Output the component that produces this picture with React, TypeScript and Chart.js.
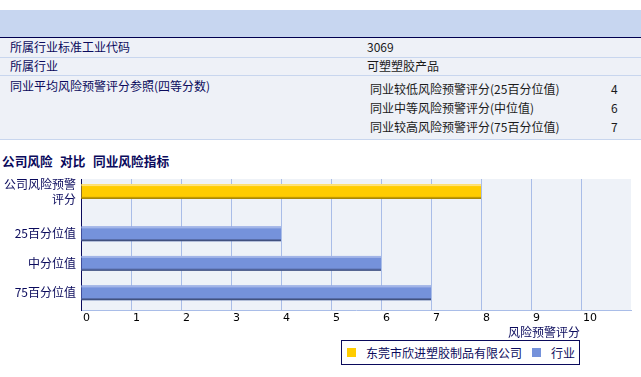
import React, { useEffect, useRef } from 'react';
import { Chart, registerables } from 'chart.js';

Chart.register(...registerables);

// ---- data ----
const infoLabels = ['所属行业标准工业代码', '所属行业', '同业平均风险预警评分参照(四等分数)'];
const infoValues = ['3069', '可塑塑胶产品', ''];
const quartileLabels = ['同业较低风险预警评分(25百分位值)', '同业中等风险预警评分(中位值)', '同业较高风险预警评分(75百分位值)'];
const quartileValues = [4, 6, 7];

const chartTitleParts = ['公司风险', '对比', '同业风险指标'];
const axisTitle = '风险预警评分';
const categories: (string | string[])[] = [['公司风险预警', '评分'], '25百分位值', '中分位值', '75百分位值'];
const companyName = '东莞市欣进塑胶制品有限公司';
const industryName = '行业';
const companyScores: (number | null)[] = [8, null, null, null];
const industryScores: (number | null)[] = [null, 4, 6, 7];
const scoreTicks = [0, 1, 2, 3, 4, 5, 6, 7, 8, 9, 10];

// ---- style ----
const NAVY = '#0a0a5c';
const CJK = '"Noto Sans CJK SC", "Noto Sans", sans-serif';
const CAT_PCT = 0.868;
const BAR_PCT = 1.154;
const GRID = '#A9BDE8';
const YELLOW = { body: '#FFCC00', light: '#FFE27A', mid: '#C29A00', dark: '#9C7C00' };
const BLUE = { body: '#7592DB', light: '#A2B5E8', mid: '#52659E', dark: '#39466E' };
const shades = [YELLOW, BLUE];

const toPoints = (arr: (number | null)[]) =>
  arr.map((v, i) => (v == null ? null : { x: v, y: i })).filter((p) => p !== null) as { x: number; y: number }[];

const plotBg = {
  id: 'plotBg',
  beforeDraw(chart: any) {
    const { ctx, chartArea } = chart;
    ctx.save();
    ctx.fillStyle = '#EEF2F8';
    ctx.fillRect(chartArea.left, chartArea.top, chartArea.right - chartArea.left, chartArea.bottom - chartArea.top);
    ctx.restore();
  },
};

const bevel = {
  id: 'bevel',
  afterDatasetsDraw(chart: any) {
    const ctx = chart.ctx;
    ctx.save();
    chart.data.datasets.forEach((_: any, di: number) => {
      const meta = chart.getDatasetMeta(di);
      const s = shades[di];
      meta.data.forEach((el: any) => {
        const { x, y, base, height } = el.getProps(['x', 'y', 'base', 'height'], true);
        const left = Math.min(x, base);
        const w = Math.abs(x - base);
        const top = y - height / 2;
        ctx.fillStyle = s.light;
        ctx.fillRect(left, top, w, 2);
        ctx.fillStyle = s.mid;
        ctx.fillRect(left, top + height - 2, w, 1);
        ctx.fillStyle = s.dark;
        ctx.fillRect(left, top + height - 1, w, 1);
      });
    });
    ctx.restore();
  },
};

function ChartBox() {
  const ref = useRef<HTMLCanvasElement | null>(null);
  useEffect(() => {
    if (!ref.current) return;
    const chart = new Chart(ref.current, {
      type: 'bar',
      data: {
        datasets: [
          {
            label: companyName,
            data: toPoints(companyScores) as any,
            backgroundColor: YELLOW.body,
            categoryPercentage: CAT_PCT,
            barPercentage: BAR_PCT,
          },
          {
            label: industryName,
            data: toPoints(industryScores) as any,
            backgroundColor: BLUE.body,
            categoryPercentage: CAT_PCT,
            barPercentage: BAR_PCT,
          },
        ],
      },
      options: {
        indexAxis: 'y',
        responsive: false,
        animation: false,
        layout: { padding: { top: 29, right: 10, left: 0, bottom: 0 } },
        plugins: { legend: { display: false }, tooltip: { enabled: false }, title: { display: false } },
        scales: {
          x: {
            type: 'linear',
            position: 'bottom',
            min: 0,
            max: 11,
            offset: false,
            ticks: {
              stepSize: 1,
              autoSkip: false,
              maxRotation: 0,
              align: 'start',
              labelOffset: 2,
              padding: 2,
              color: '#000',
              font: { family: '"DejaVu Sans", sans-serif', size: 11 },
              callback: (v: any) => (scoreTicks.includes(Number(v)) ? String(v) : ''),
            },
            grid: {
              drawTicks: false,
              offset: false,
              color: (c: any) => (c.tick && (c.tick.value === 0 || c.tick.value === 11) ? 'transparent' : GRID),
            },
            border: { color: GRID, width: 1 },
            afterFit: (s: any) => {
              s.height = 18;
            },
          },
          y: {
            type: 'linear',
            reverse: true,
            offset: false,
            bounds: 'data',
            min: -0.64,
            max: 3.8,
            afterBuildTicks: (s: any) => {
              s.ticks = categories.map((_, i) => ({
                value: i + (companyScores[i] != null ? -1 : 1) * (CAT_PCT / 4),
              }));
            },
            ticks: {
              autoSkip: false,
              padding: 5,
              color: NAVY,
              font: { family: CJK, size: 12, lineHeight: 1.25 },
              callback: (_v: any, i: number) => categories[i] as any,
            },
            grid: { drawTicks: false, offset: false, color: 'transparent' },
            border: { color: NAVY, width: 1 },
            afterFit: (s: any) => {
              s.width = 81;
            },
          },
        },
      },
      plugins: [plotBg, bevel],
    } as any);
    return () => chart.destroy();
  }, []);
  return (
    <canvas
      ref={ref}
      width={641}
      height={180}
      style={{ position: 'absolute', left: 0, top: 150, width: 641, height: 180, display: 'block' }}
    />
  );
}

const txt = (left: number, center: number, color: string, extra: React.CSSProperties = {}): React.CSSProperties => ({
  position: 'absolute',
  left,
  top: center - 8,
  height: 16,
  lineHeight: '16px',
  whiteSpace: 'nowrap',
  color,
  ...extra,
});

export default function App() {
  const rowTops = [38, 58, 76];
  const rowHeights = [19, 17, 63];
  const rowCenters = [46.7, 65.7, 85.7];
  const subCenters = [89, 108, 127];
  const titleLefts = [2, 60, 93];
  return (
    <div
      style={{
        position: 'absolute',
        left: 0,
        top: 0,
        width: 641,
        height: 377,
        background: '#fff',
        fontFamily: CJK,
        fontSize: 12,
        overflow: 'hidden',
      }}
    >
      <div style={{ position: 'absolute', left: 0, top: 10, width: 641, height: 27, background: '#C7D6F0' }} />
      <div style={{ position: 'absolute', left: 0, top: 37, width: 641, height: 1, background: '#00004F' }} />
      {rowTops.map((t, i) => (
        <React.Fragment key={i}>
          <div style={{ position: 'absolute', left: 0, top: t, width: 641, height: rowHeights[i], background: '#EEF1F7' }} />
          <div style={{ position: 'absolute', left: 0, top: t + rowHeights[i], width: 641, height: 1, background: '#C8D6EE' }} />
        </React.Fragment>
      ))}
      {infoLabels.map((l, i) => (
        <div key={'l' + i} style={txt(10, rowCenters[i], NAVY)}>
          {l}
        </div>
      ))}
      {infoValues.map((v, i) =>
        v ? (
          <div key={'v' + i} style={txt(367, rowCenters[i], '#1a1a1a')}>
            {v}
          </div>
        ) : null
      )}
      {quartileLabels.map((l, i) => (
        <React.Fragment key={'q' + i}>
          <div style={txt(370, subCenters[i], '#1a1a1a')}>{l}</div>
          <div style={txt(611, subCenters[i], '#1a1a1a')}>{quartileValues[i]}</div>
        </React.Fragment>
      ))}
      {chartTitleParts.map((p, i) => (
        <div key={'t' + i} style={txt(titleLefts[i], 161, NAVY, { fontWeight: 'bold', fontSize: 12.7 })}>
          {p}
        </div>
      ))}
      <ChartBox />
      <div style={txt(0, 332, NAVY, { width: 580, textAlign: 'right' })}>{axisTitle}</div>
      <div
        style={{
          position: 'absolute',
          left: 341,
          top: 340,
          width: 237,
          height: 23,
          border: `1px solid ${NAVY}`,
          background: '#fff',
        }}
      />
      <div style={{ position: 'absolute', left: 347, top: 348, width: 9, height: 9, background: YELLOW.body }} />
      <div style={txt(366, 352.5, NAVY)}>{companyName}</div>
      <div style={{ position: 'absolute', left: 532, top: 348, width: 9, height: 9, background: BLUE.body }} />
      <div style={txt(551, 352.5, NAVY)}>{industryName}</div>
    </div>
  );
}
